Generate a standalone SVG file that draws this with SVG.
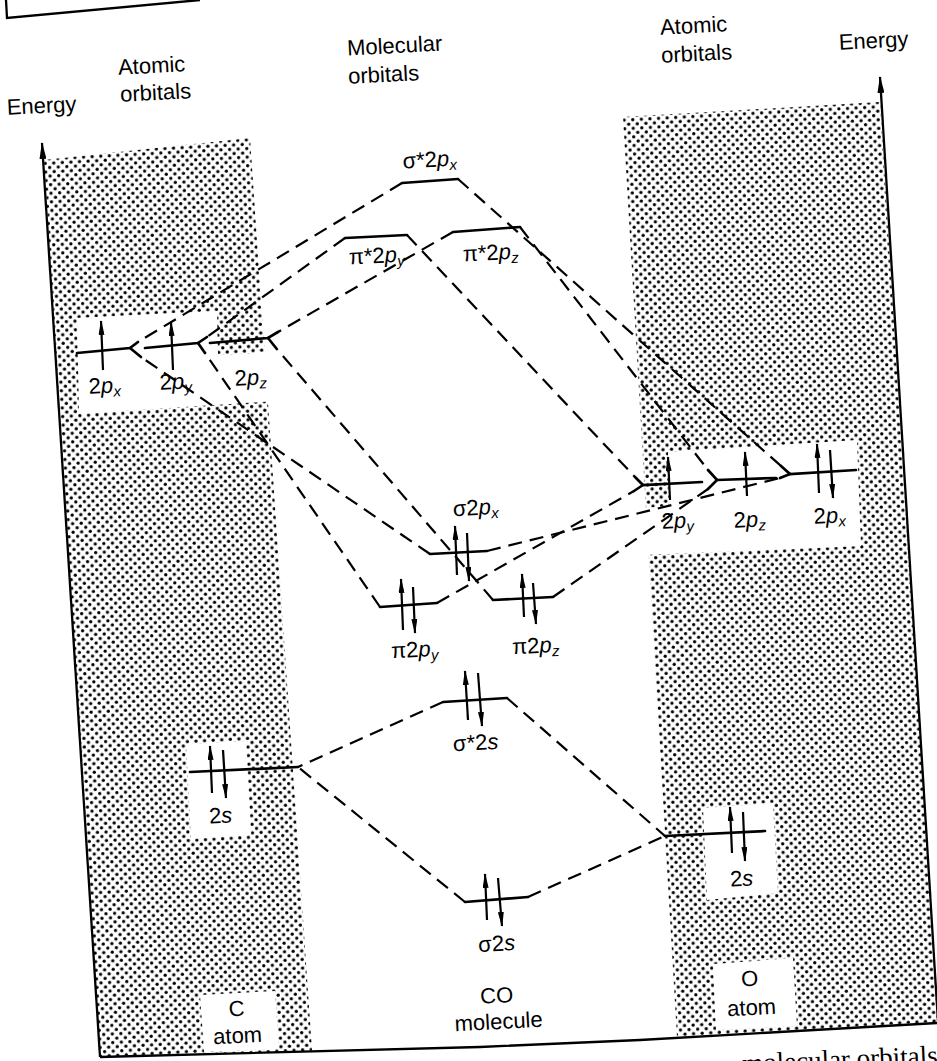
<svg xmlns="http://www.w3.org/2000/svg" width="937" height="1061" viewBox="0 0 937 1061">
<defs>
<pattern id="dots" width="8.6" height="8.6" patternUnits="userSpaceOnUse" patternTransform="rotate(-3)">
<circle cx="2.15" cy="2.15" r="1.65" fill="#000"/>
<circle cx="6.45" cy="6.45" r="1.65" fill="#000"/>
</pattern>
<marker id="eh" markerUnits="userSpaceOnUse" markerWidth="15" markerHeight="6" refX="14" refY="3" orient="auto" viewBox="0 0 15 6"><path d="M0,0 L15,3 L0,6 Z" fill="#000"/></marker>
<marker id="axh" markerUnits="userSpaceOnUse" markerWidth="17" markerHeight="7" refX="16" refY="3.5" orient="auto" viewBox="0 0 17 7"><path d="M0,0 L17,3.5 L0,7 Z" fill="#000"/></marker>
</defs>
<style>
.lvl{stroke:#000;stroke-width:2.7;fill:none;stroke-linecap:round}
.con{stroke:#000;stroke-width:2.2;fill:none;stroke-dasharray:14 8}
.e{stroke:#000;stroke-width:2.2;fill:none;marker-end:url(#eh)}
.ax{stroke:#000;stroke-width:2.3;fill:none}
.band{fill:url(#dots)}
.cut{fill:#fff}
text{font-family:"Liberation Sans",Arial,sans-serif;font-size:22px;fill:#000;text-anchor:middle}
.i{font-style:italic}
.sub{font-size:15px;font-style:italic}
.cap{font-family:"Liberation Serif","Times New Roman",serif;font-size:27px;text-anchor:end}
</style>
<rect width="937" height="1061" fill="#fff"/>

<g id="frame-fragment">
<polyline class="ax" points="6,0 7,18 200,0" stroke-width="1.6"/>
</g>

<g id="bands">
<polygon class="band" points="44,160 250,138 312,1051 100,1057"/>
<polygon class="cut" points="77,318 217,311 218,355 290,351 292,400 79,414"/>
<polygon class="cut" points="186,744 246,741 251,835 191,839"/>
<polygon class="cut" points="200,995 275,991 279,1049 204,1052"/>
<polygon class="band" points="623,117 880,102 938,1022 677,1037"/>
<polygon class="cut" points="668,452 857,440 861,546 645,555 644,508 669,506"/>
<polygon class="cut" points="703,808 773,803 778,893 707,900"/>
<polygon class="cut" points="713,964 793,958 797,1026 716,1030"/>
</g>

<g id="axes">
<line class="ax" x1="100" y1="1057" x2="42" y2="143" marker-end="url(#axh)"/>
<line class="ax" x1="938" y1="1022" x2="880" y2="77" marker-end="url(#axh)"/>
<polyline class="ax" points="100,1057 480,1047 640,1040 937,1023"/>
</g>

<g id="connectors">
<line class="con" x1="402" y1="183" x2="138" y2="342"/>
<line class="con" x1="345" y1="238" x2="207" y2="337"/>
<line class="con" x1="453" y1="232" x2="278" y2="332"/>
<line class="con" x1="430" y1="554" x2="141" y2="357"/>
<line class="con" x1="380" y1="607" x2="205" y2="353"/>
<line class="con" x1="493" y1="600" x2="276" y2="348"/>
<line class="con" x1="443" y1="702" x2="298" y2="767"/>
<line class="con" x1="465" y1="902" x2="298" y2="767"/>
<line class="con" x1="458" y1="179" x2="781" y2="466"/>
<line class="con" x1="407" y1="235" x2="635" y2="477"/>
<line class="con" x1="520" y1="227" x2="708" y2="470"/>
<line class="con" x1="487" y1="551" x2="780" y2="478"/>
<line class="con" x1="437" y1="603" x2="634" y2="491"/>
<line class="con" x1="553" y1="597" x2="708" y2="489"/>
<line class="con" x1="507" y1="698" x2="665" y2="836"/>
<line class="con" x1="528" y1="897" x2="665" y2="836"/>
</g>

<g id="C-2px">
<polyline class="lvl" points="77,353 130,348 138,342"/>
<line class="lvl" x1="130" y1="348" x2="141" y2="357"/>
<line class="e" x1="103" y1="370" x2="101" y2="321"/>
<text x="105" y="393" transform="rotate(-3 105 393)">2<tspan class="i">p</tspan><tspan class="sub" dy="4">x</tspan></text>
</g>
<g id="C-2py">
<polyline class="lvl" points="145,348 198,343 207,337"/>
<line class="lvl" x1="198" y1="343" x2="205" y2="353"/>
<line class="e" x1="173" y1="370" x2="171" y2="322"/>
<text x="176" y="389" transform="rotate(-3 176 389)">2<tspan class="i">p</tspan><tspan class="sub" dy="4">y</tspan></text>
</g>
<g id="C-2pz">
<polyline class="lvl" points="210,343 268,338 278,332"/>
<line class="lvl" x1="268" y1="338" x2="276" y2="348"/>
<text x="251" y="385" transform="rotate(-3 251 385)">2<tspan class="i">p</tspan><tspan class="sub" dy="4">z</tspan></text>
</g>
<g id="C-2s">
<line class="lvl" x1="190" y1="772" x2="298" y2="767"/>
<line class="e" x1="212" y1="793" x2="210" y2="746"/>
<line class="e" x1="223" y1="750" x2="226" y2="798"/>
<text x="221" y="823" transform="rotate(-3 221 823)">2<tspan class="i">s</tspan></text>
</g>

<g id="O-2py">
<polyline class="lvl" points="635,477 643,485 702,482"/>
<line class="lvl" x1="643" y1="485" x2="634" y2="491"/>
<line class="e" x1="670" y1="500" x2="668" y2="457"/>
<text x="678" y="528" transform="rotate(-3 678 528)">2<tspan class="i">p</tspan><tspan class="sub" dy="4">y</tspan></text>
</g>
<g id="O-2pz">
<polyline class="lvl" points="708,470 717,480 776,478"/>
<line class="lvl" x1="717" y1="480" x2="708" y2="489"/>
<line class="e" x1="747" y1="496" x2="745" y2="452"/>
<text x="750" y="527" transform="rotate(-3 750 527)">2<tspan class="i">p</tspan><tspan class="sub" dy="4">z</tspan></text>
</g>
<g id="O-2px">
<polyline class="lvl" points="781,466 790,474 856,470"/>
<line class="lvl" x1="790" y1="474" x2="780" y2="478"/>
<line class="e" x1="819" y1="493" x2="817" y2="444"/>
<line class="e" x1="830" y1="450" x2="833" y2="498"/>
<text x="830" y="523" transform="rotate(-3 830 523)">2<tspan class="i">p</tspan><tspan class="sub" dy="4">x</tspan></text>
</g>
<g id="O-2s">
<line class="lvl" x1="665" y1="836" x2="765" y2="831"/>
<line class="e" x1="732" y1="853" x2="730" y2="807"/>
<line class="e" x1="743" y1="812" x2="745" y2="861"/>
<text x="742" y="886" transform="rotate(-3 742 886)">2<tspan class="i">s</tspan></text>
</g>

<g id="MO-sigma-star-2px">
<line class="lvl" x1="402" y1="183" x2="458" y2="179"/>
<text x="430" y="167" transform="rotate(-3 430 167)">σ*2<tspan class="i">p</tspan><tspan class="sub" dy="4">x</tspan></text>
</g>
<g id="MO-pi-star-2py">
<line class="lvl" x1="345" y1="238" x2="407" y2="235"/>
<text x="377" y="263" transform="rotate(-3 377 263)">π*2<tspan class="i">p</tspan><tspan class="sub" dy="4">y</tspan></text>
</g>
<g id="MO-pi-star-2pz">
<line class="lvl" x1="453" y1="232" x2="520" y2="227"/>
<text x="491" y="260" transform="rotate(-3 491 260)">π*2<tspan class="i">p</tspan><tspan class="sub" dy="4">z</tspan></text>
</g>
<g id="MO-sigma-2px">
<line class="lvl" x1="430" y1="554" x2="487" y2="551"/>
<line class="e" x1="457" y1="575" x2="455" y2="526"/>
<line class="e" x1="467" y1="533" x2="469" y2="581"/>
<text x="476" y="515" transform="rotate(-3 476 515)">σ2<tspan class="i">p</tspan><tspan class="sub" dy="4">x</tspan></text>
</g>
<g id="MO-pi-2py">
<line class="lvl" x1="380" y1="607" x2="437" y2="603"/>
<line class="e" x1="403" y1="630" x2="401" y2="579"/>
<line class="e" x1="413" y1="587" x2="415" y2="633"/>
<text x="415" y="657" transform="rotate(-3 415 657)">π2<tspan class="i">p</tspan><tspan class="sub" dy="4">y</tspan></text>
</g>
<g id="MO-pi-2pz">
<line class="lvl" x1="493" y1="600" x2="553" y2="597"/>
<line class="e" x1="524" y1="617" x2="522" y2="574"/>
<line class="e" x1="533" y1="583" x2="536" y2="624"/>
<text x="536" y="653" transform="rotate(-3 536 653)">π2<tspan class="i">p</tspan><tspan class="sub" dy="4">z</tspan></text>
</g>
<g id="MO-sigma-star-2s">
<line class="lvl" x1="443" y1="702" x2="507" y2="698"/>
<line class="e" x1="468" y1="720" x2="465" y2="671"/>
<line class="e" x1="478" y1="673" x2="482" y2="726"/>
<text x="476" y="750" transform="rotate(-3 476 750)">σ*2<tspan class="i">s</tspan></text>
</g>
<g id="MO-sigma-2s">
<line class="lvl" x1="465" y1="902" x2="528" y2="897"/>
<line class="e" x1="487" y1="920" x2="485" y2="874"/>
<line class="e" x1="498" y1="878" x2="502" y2="926"/>
<text x="497" y="951" transform="rotate(-3 497 951)">σ2<tspan class="i">s</tspan></text>
</g>

<g id="headings">
<text x="42" y="113" transform="rotate(-3 42 113)" font-size="21">Energy</text>
<text x="152" y="73" transform="rotate(-3 152 73)">Atomic</text>
<text x="156" y="100" transform="rotate(-3 156 100)">orbitals</text>
<text x="395" y="53" transform="rotate(-3 395 53)">Molecular</text>
<text x="384" y="82" transform="rotate(-3 384 82)">orbitals</text>
<text x="694" y="33" transform="rotate(-3 694 33)">Atomic</text>
<text x="697" y="61" transform="rotate(-3 697 61)">orbitals</text>
<text x="874" y="48" transform="rotate(-3 874 48)" font-size="23">Energy</text>
</g>

<g id="C-atom-label">
<text x="237" y="1016" transform="rotate(-3 237 1016)">C</text>
<text x="238" y="1043" transform="rotate(-3 238 1043)">atom</text>
</g>
<g id="CO-label">
<text x="497" y="1003" transform="rotate(-3 497 1003)">CO</text>
<text x="499" y="1029" transform="rotate(-3 499 1029)">molecule</text>
</g>
<g id="O-atom-label">
<text x="750" y="986" transform="rotate(-3 750 986)">O</text>
<text x="752" y="1015" transform="rotate(-3 752 1015)">atom</text>
</g>

<text class="cap" x="938" y="1064" transform="rotate(-2.5 938 1064)">molecular orbitals</text>
</svg>
